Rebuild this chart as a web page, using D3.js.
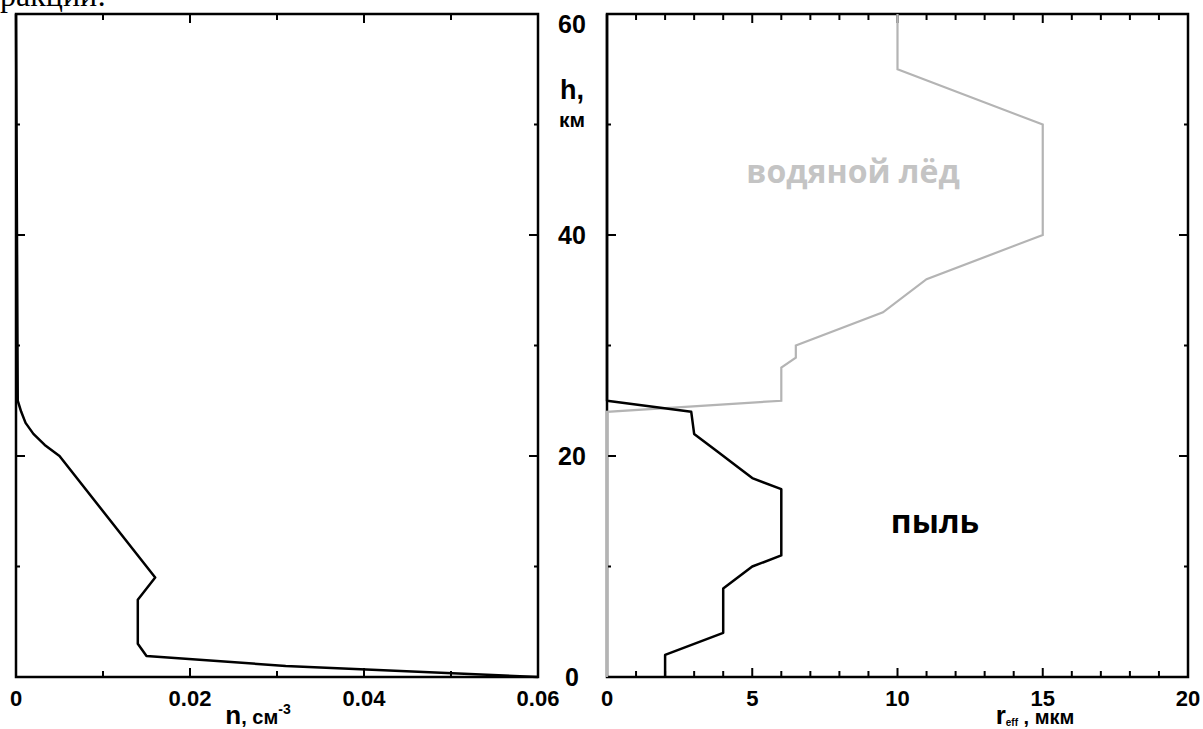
<!DOCTYPE html>
<html><head><meta charset="utf-8">
<script src="https://cdn.jsdelivr.net/npm/d3@7"></script>
<style>body{margin:0;background:#fff}svg{display:block}</style>
</head><body>
<script>
// ---- data ----
const heightTicks = [0, 20, 40, 60];
const nTickLabels = ["0", "0.02", "0.04", "0.06"];
const nTickValues = [0, 0.02, 0.04, 0.06];
const rTickValues = [0, 5, 10, 15, 20];

// left panel: number density n (cm^-3) vs height h (km)
const nHeights = [0, 1, 1.9, 3, 7, 9, 20, 21, 22, 23, 24, 25, 60];
const nValues  = [0.06, 0.031, 0.015, 0.014, 0.014, 0.016, 0.005, 0.0033, 0.002, 0.0011, 0.0006, 0.0002, 0];

// right panel: effective radius (µm) vs height
const dustHeights = [0, 2, 4, 8, 10, 11, 17, 18, 19, 20.4, 22, 24, 25, 60];
const dustReff    = [2, 2, 4, 4, 5, 6, 6, 5, 4.5, 3.8, 3, 2.9, 0, 0];
const iceHeights  = [0, 24, 25, 28, 28.9, 30, 33, 36, 40, 50, 55, 60];
const iceReff     = [0, 0, 6, 6, 6.5, 6.5, 9.5, 11, 15, 15, 10, 10];

const W = 1203, H = 729;
const svg = d3.select("body").append("svg").attr("width", W).attr("height", H);

const y = d3.scaleLinear().domain([0, 60]).range([677, 14]);
const xN = d3.scaleLinear().domain([0, 0.06]).range([16, 538]);
const xR = d3.scaleLinear().domain([0, 20]).range([607, 1188]);

// cut-off text from page above
svg.append("text").attr("x", 0).attr("y", 6)
  .attr("font-family", "Liberation Serif").attr("font-size", 32)
  .text("ракций:");

function frame(x, minorStep, majorStep, minorLen, majorLen) {
  const g = svg.append("g");
  const [x0, x1] = x.range();
  const [y0, y1] = y.range();
  const xt = d3.range(x.domain()[0], x.domain()[1] + minorStep / 2, minorStep);
  xt.forEach(v => {
    const isMaj = Math.abs(v / majorStep - Math.round(v / majorStep)) < 1e-6;
    const L = isMaj ? majorLen : minorLen;
    g.append("line").attr("x1", x(v)).attr("x2", x(v)).attr("y1", y0).attr("y2", y0 - L)
      .attr("stroke", "#000").attr("stroke-width", 2);
    g.append("line").attr("x1", x(v)).attr("x2", x(v)).attr("y1", y1).attr("y2", y1 + L)
      .attr("stroke", "#000").attr("stroke-width", 2);
  });
  d3.range(10, 60, 10).forEach(v => {
    const L = v % 20 === 0 ? 9 : 4;
    g.append("line").attr("x1", x0).attr("x2", x0 + L).attr("y1", y(v)).attr("y2", y(v))
      .attr("stroke", "#000").attr("stroke-width", 2);
    g.append("line").attr("x1", x1).attr("x2", x1 - L).attr("y1", y(v)).attr("y2", y(v))
      .attr("stroke", "#000").attr("stroke-width", 2);
  });
  g.append("rect").attr("x", x0).attr("y", y1).attr("width", x1 - x0).attr("height", y0 - y1)
    .attr("fill", "none").attr("stroke", "#000").attr("stroke-width", 2.5);
}
frame(xN, 0.01, 0.02, 6, 9);
frame(xR, 1, 5, 6, 9);

const lineN = d3.line().x(d => xN(d[0])).y(d => y(d[1]));
const lineR = d3.line().x(d => xR(d[0])).y(d => y(d[1]));

svg.append("path").datum(nValues.map((v, i) => [v, nHeights[i]]))
  .attr("d", lineN).attr("fill", "none").attr("stroke", "#000").attr("stroke-width", 2.5)
  .attr("stroke-linejoin", "round");

svg.append("path").datum(iceReff.map((v, i) => [v, iceHeights[i]]))
  .attr("d", lineR).attr("fill", "none").attr("stroke", "#b4b4b4").attr("stroke-width", 2.2);
svg.append("path").datum(dustReff.map((v, i) => [v, dustHeights[i]]))
  .attr("d", lineR).attr("fill", "none").attr("stroke", "#000").attr("stroke-width", 2.5)
  .attr("stroke-linejoin", "round");

// y labels between panels
svg.selectAll("text.hy").data(heightTicks).enter().append("text")
  .attr("x", 572).attr("y", d => y(d) + (d === 60 ? 10 : 0))
  .attr("dy", "0.36em").attr("text-anchor", "middle")
  .attr("font-family", "Liberation Sans").attr("font-weight", "bold").attr("font-size", 25)
  .text(d => d);

svg.append("text").attr("x", 572).attr("y", 99).attr("text-anchor", "middle")
  .attr("font-family", "Liberation Sans").attr("font-weight", "bold").attr("font-size", 27).text("h,");
svg.append("text").attr("x", 572).attr("y", 127).attr("text-anchor", "middle")
  .attr("font-family", "Liberation Sans").attr("font-weight", "bold").attr("font-size", 21).text("км");

// x tick labels
svg.selectAll("text.nx").data(nTickValues).enter().append("text")
  .attr("x", d => xN(d)).attr("y", 706).attr("text-anchor", "middle")
  .attr("font-family", "Liberation Sans").attr("font-weight", "bold").attr("font-size", 22)
  .text((d, i) => nTickLabels[i]);
svg.selectAll("text.rx").data(rTickValues).enter().append("text")
  .attr("x", d => xR(d)).attr("y", 706).attr("text-anchor", "middle")
  .attr("font-family", "Liberation Sans").attr("font-weight", "bold").attr("font-size", 22)
  .text(d => d);

// axis titles
const tN = svg.append("text").attr("x", 258).attr("y", 724).attr("text-anchor", "middle")
  .attr("font-family", "Liberation Sans").attr("font-weight", "bold");
tN.append("tspan").attr("font-size", 26).text("n");
tN.append("tspan").attr("font-size", 20).text(", см");
tN.append("tspan").attr("font-size", 14).attr("dy", -10).text("-3");

const tR = svg.append("text").attr("x", 1035).attr("y", 724).attr("text-anchor", "middle")
  .attr("font-family", "Liberation Sans").attr("font-weight", "bold");
tR.append("tspan").attr("font-size", 26).text("r");
tR.append("tspan").attr("font-size", 10).attr("dy", 2).text("eff");
tR.append("tspan").attr("font-size", 20).attr("dy", -2).text(" , мкм");

// annotations
svg.append("text").attr("x", 853).attr("y", 183).attr("text-anchor", "middle")
  .attr("font-family", "Open Sans").attr("font-weight", 700).attr("font-size", 32)
  .attr("fill", "#c4c4c4").text("водяной лёд");
svg.append("text").attr("x", 935).attr("y", 533).attr("text-anchor", "middle")
  .attr("font-family", "Open Sans").attr("font-weight", 700).attr("font-size", 32)
  .attr("fill", "#000").text("пыль");
</script>
</body></html>
